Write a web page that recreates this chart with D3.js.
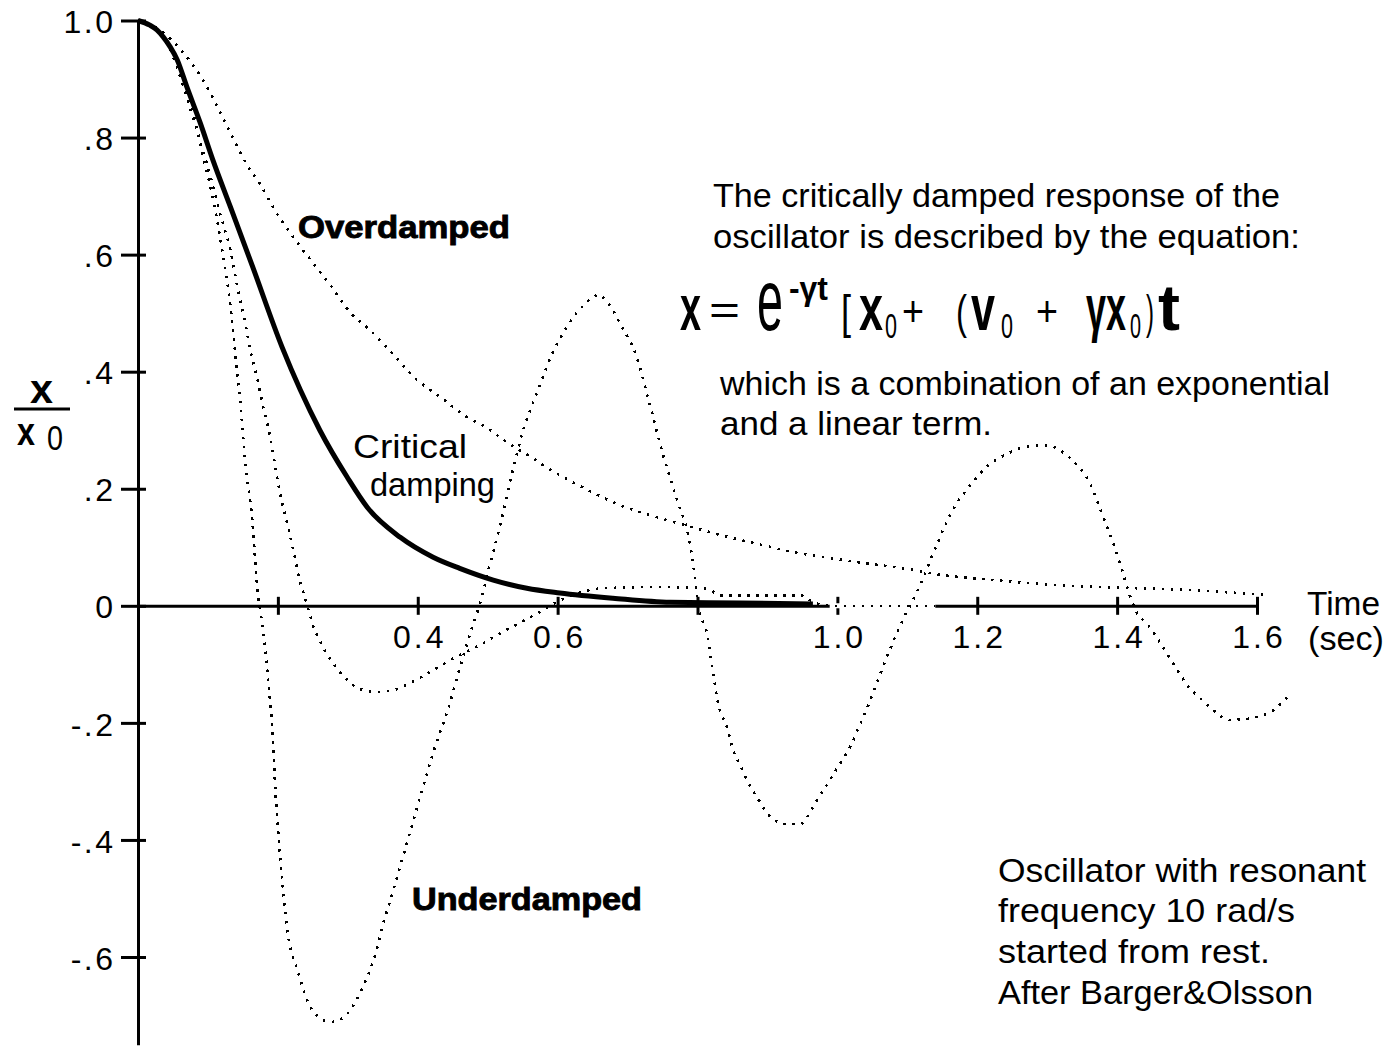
<!DOCTYPE html>
<html>
<head>
<meta charset="utf-8">
<title>Damped oscillator response</title>
<script src="https://cdn.jsdelivr.net/npm/d3@7"></script>
<style>
  html, body { margin: 0; padding: 0; background: #fff; }
  svg { display: block; }
  text { font-family: "Liberation Sans", Arial, sans-serif; fill: #000; }
</style>
</head>
<body>
<svg id="chart" width="1395" height="1046"></svg>
<script>
// ---------- data ----------
const timeTicks = [0.2, 0.4, 0.6, 0.8, 1.0, 1.2, 1.4, 1.6];
const timeTickLabels = ["", "0.4", "0.6", "", "1.0", "1.2", "1.4", "1.6"];
const ratioTicks = [1.0, 0.8, 0.6, 0.4, 0.2, 0, -0.2, -0.4, -0.6];
const ratioTickLabels = ["1.0", ".8", ".6", ".4", ".2", "0", "-.2", "-.4", "-.6"];

// critically damped response (time in s, x/x0)
const criticalTime  = [0, 0.017, 0.027, 0.036, 0.046, 0.056, 0.070, 0.089, 0.107, 0.132, 0.164, 0.206, 0.232, 0.260, 0.299, 0.328, 0.375, 0.422, 0.460, 0.508, 0.556, 0.603, 0.679, 0.761, 0.861, 0.965];
const criticalValue = [1.0, 0.992, 0.984, 0.972, 0.955, 0.933, 0.886, 0.825, 0.762, 0.682, 0.579, 0.442, 0.369, 0.300, 0.220, 0.168, 0.117, 0.083, 0.064, 0.044, 0.030, 0.022, 0.013, 0.006, 0.005, 0.003];

// overdamped response
const overdampedTime  = [0, 0.031, 0.064, 0.093, 0.127, 0.156, 0.174, 0.196, 0.213, 0.246, 0.275, 0.303, 0.336, 0.356, 0.399, 0.432, 0.470, 0.499, 0.528, 0.561, 0.589, 0.622, 0.656, 0.689, 0.746, 0.785, 0.836, 0.888, 0.932, 1.004, 1.051, 1.100, 1.147, 1.214, 1.261, 1.333, 1.404, 1.500, 1.608];
const overdampedValue = [1.0, 0.984, 0.946, 0.898, 0.821, 0.753, 0.722, 0.675, 0.645, 0.592, 0.548, 0.502, 0.466, 0.441, 0.386, 0.357, 0.323, 0.304, 0.279, 0.255, 0.233, 0.211, 0.190, 0.172, 0.150, 0.137, 0.120, 0.105, 0.093, 0.079, 0.071, 0.063, 0.053, 0.045, 0.040, 0.034, 0.031, 0.027, 0.019];

// strongly underdamped response
const underdampedTime  = [0, 0.024, 0.046, 0.064, 0.081, 0.093, 0.107, 0.122, 0.132, 0.139, 0.146, 0.154, 0.163, 0.170, 0.179, 0.186, 0.192, 0.197, 0.204, 0.213, 0.229, 0.249, 0.275, 0.293, 0.312, 0.327, 0.339, 0.350, 0.365, 0.379, 0.393, 0.407, 0.422, 0.443, 0.460, 0.475, 0.488, 0.503, 0.518, 0.536, 0.550, 0.570, 0.593, 0.613, 0.636, 0.658, 0.671, 0.689, 0.713, 0.732, 0.751, 0.771, 0.789, 0.794, 0.801, 0.814, 0.822, 0.829, 0.842, 0.852, 0.861, 0.874, 0.884, 0.901, 0.914, 0.928, 0.947, 0.958, 0.968, 0.987, 1.001, 1.019, 1.032, 1.045, 1.057, 1.075, 1.094, 1.108, 1.118, 1.142, 1.165, 1.190, 1.214, 1.247, 1.271, 1.300, 1.323, 1.343, 1.361, 1.375, 1.390, 1.404, 1.418, 1.428, 1.443, 1.461, 1.486, 1.504, 1.518, 1.537, 1.561, 1.581, 1.600, 1.624, 1.643];
const underdampedValue = [1.0, 0.987, 0.950, 0.898, 0.835, 0.767, 0.697, 0.596, 0.514, 0.432, 0.352, 0.237, 0.152, 0.039, -0.046, -0.126, -0.212, -0.327, -0.438, -0.549, -0.626, -0.690, -0.711, -0.704, -0.674, -0.636, -0.597, -0.546, -0.486, -0.428, -0.370, -0.312, -0.251, -0.178, -0.107, -0.047, 0.000, 0.070, 0.138, 0.232, 0.297, 0.363, 0.433, 0.476, 0.512, 0.531, 0.519, 0.483, 0.425, 0.343, 0.257, 0.180, 0.108, 0.070, 0.001, -0.050, -0.113, -0.164, -0.207, -0.250, -0.272, -0.306, -0.325, -0.356, -0.369, -0.373, -0.373, -0.359, -0.338, -0.302, -0.275, -0.239, -0.204, -0.168, -0.130, -0.075, -0.023, 0.010, 0.035, 0.104, 0.164, 0.206, 0.238, 0.262, 0.272, 0.274, 0.262, 0.240, 0.210, 0.167, 0.121, 0.073, 0.018, -0.011, -0.031, -0.062, -0.110, -0.141, -0.157, -0.178, -0.195, -0.194, -0.190, -0.178, -0.157];

// lightly underdamped response (just below critical damping)
const nearCriticalTime  = [0, 0.024, 0.046, 0.064, 0.084, 0.103, 0.120, 0.132, 0.143, 0.153, 0.160, 0.170, 0.179, 0.189, 0.196, 0.203, 0.213, 0.222, 0.230, 0.242, 0.250, 0.260, 0.279, 0.296, 0.317, 0.342, 0.365, 0.389, 0.422, 0.460, 0.489, 0.518, 0.546, 0.575, 0.596, 0.625, 0.665, 0.746, 0.814, 0.832, 0.947, 0.968, 0.989, 1.140];
const nearCriticalValue = [1.0, 0.987, 0.950, 0.890, 0.813, 0.736, 0.659, 0.608, 0.540, 0.485, 0.440, 0.391, 0.340, 0.288, 0.240, 0.193, 0.143, 0.096, 0.049, 0.001, -0.033, -0.060, -0.098, -0.123, -0.142, -0.147, -0.144, -0.132, -0.110, -0.084, -0.067, -0.047, -0.029, -0.010, 0.005, 0.020, 0.030, 0.032, 0.029, 0.018, 0.018, 0.005, 0, 0];

// ---------- layout ----------
const svg = d3.select("#chart");
const x = d3.scaleLinear().domain([0, 1.6]).range([138, 1257]);
const y = d3.scaleLinear().domain([-0.75, 1.0]).range([1044.8, 20.5]);

const toPoints = (ts, vs) => ts.map((t, i) => ({ t, v: vs[i] }));
const critical = toPoints(criticalTime, criticalValue);
const overdamped = toPoints(overdampedTime, overdampedValue);
const underdamped = toPoints(underdampedTime, underdampedValue);
const nearCritical = toPoints(nearCriticalTime, nearCriticalValue);

const line = d3.line().x(d => x(d.t)).y(d => y(d.v)).curve(d3.curveMonotoneX);
const FONT = '"Liberation Sans", Arial, sans-serif';

// ---------- axes ----------
const yAxis = d3.axisLeft(y)
  .tickValues(ratioTicks)
  .tickFormat((d, i) => ratioTickLabels[i])
  .tickSize(17).tickSizeOuter(0).tickPadding(8);

const yG = svg.append("g").attr("transform", `translate(${x(0)},0)`).call(yAxis);
yG.select(".domain").attr("stroke", "#000").attr("stroke-width", 3);
yG.selectAll(".tick line").attr("x1", 8).attr("stroke", "#000").attr("stroke-width", 3);
yG.selectAll(".tick text")
  .attr("font-family", FONT).attr("font-size", 32)
  .attr("letter-spacing", 2.5).attr("dx", 2.5)
  .attr("dy", "0.38em").attr("fill", "#000");

const xAxis = d3.axisBottom(x)
  .tickValues(timeTicks)
  .tickFormat((d, i) => timeTickLabels[i])
  .tickSize(9).tickSizeOuter(0).tickPadding(10);

const xG = svg.append("g").attr("transform", `translate(0,${y(0)})`).call(xAxis);
xG.select(".domain").attr("stroke", "#000").attr("stroke-width", 3);
xG.selectAll(".tick line").attr("y1", -9).attr("stroke", "#000").attr("stroke-width", 3);
xG.selectAll(".tick text")
  .attr("font-family", FONT).attr("font-size", 32)
  .attr("letter-spacing", 3).attr("dx", 1.5).attr("fill", "#000");
[yG, xG].forEach(g => g.attr("font-family", null).attr("font-size", null));

// where the lightly damped curve lies on the axis its dots replace the axis line
svg.append("path")
  .datum(nearCritical.filter(d => d.v === 0))
  .attr("d", line)
  .attr("fill", "none").attr("stroke", "#fff").attr("stroke-width", 5);

// ---------- curves ----------
[overdamped, underdamped, nearCritical].forEach(series => {
  svg.append("path")
    .datum(series)
    .attr("d", line)
    .attr("fill", "none")
    .attr("stroke", "#000")
    .attr("stroke-width", 2.6)
    .attr("stroke-dasharray", "2.4 6.6")
    .attr("shape-rendering", "crispEdges");
});

svg.append("path")
  .datum(critical)
  .attr("d", line)
  .attr("fill", "none")
  .attr("stroke", "#000")
  .attr("stroke-width", 5)
  .attr("stroke-linejoin", "round");

// ---------- text ----------
function label(str, px, py, opts = {}) {
  const t = svg.append("text")
    .attr("x", px).attr("y", py)
    .attr("font-size", opts.size || 33)
    .attr("font-weight", opts.bold ? "bold" : "normal")
    .text(str);
  if (opts.width) t.attr("textLength", opts.width).attr("lengthAdjust", "spacingAndGlyphs");
  if (opts.heavy) t.attr("stroke", "#000").attr("stroke-width", opts.heavy);
  return t;
}

// a glyph group squeezed horizontally to a given width
function squeezed(p) {
  const t = svg.append("text")
    .attr("font-size", p.size)
    .attr("font-weight", p.bold ? "bold" : "normal")
    .text(p.s);
  const natural = t.node().getComputedTextLength();
  t.attr("transform", `translate(${p.x},${p.y}) scale(${p.w / natural},1)`);
  return t;
}

// axis titles
squeezed({ s: "x", x: 30, y: 403, size: 40, bold: true, w: 23 });
svg.append("line").attr("x1", 14).attr("x2", 70).attr("y1", 409).attr("y2", 409)
  .attr("stroke", "#000").attr("stroke-width", 3);
squeezed({ s: "x", x: 17, y: 445, size: 38, bold: true, w: 18 });
squeezed({ s: "0", x: 47, y: 450, size: 35, w: 16 });
label("Time", 1307, 615, { size: 33, width: 73 });
label("(sec)", 1308, 650, { size: 33, width: 76 });

// curve names
label("Overdamped", 298, 238, { size: 32, bold: true, width: 212, heavy: 0.9 });
label("Critical", 353, 458, { size: 33, width: 114 });
label("damping", 370, 496, { size: 33, width: 125 });
label("Underdamped", 412, 910, { size: 32, bold: true, width: 230, heavy: 0.9 });

// explanation
label("The critically damped response of the", 713, 207, { width: 567 });
label("oscillator is described by the equation:", 713, 248, { width: 587 });
label("which is a combination of an exponential", 720, 395, { width: 610 });
label("and a linear term.", 720, 435, { width: 272 });

// x = e^(-γt) [x0 + (v0 + γx0) t]
[
  { s: "x",   x: 680,  y: 330, size: 64, bold: true,  w: 21 },
  { s: "=",   x: 709,  y: 324, size: 40, bold: false, w: 31 },
  { s: "e",   x: 757,  y: 330, size: 88, bold: false, w: 26 },
  { s: "-γt", x: 789,  y: 300, size: 34, bold: true,  w: 39 },
  { s: "[",   x: 841,  y: 328, size: 46, bold: false, w: 10 },
  { s: "x",   x: 859,  y: 330, size: 64, bold: true,  w: 24 },
  { s: "0",   x: 885,  y: 338, size: 36, bold: false, w: 12 },
  { s: "+",   x: 902,  y: 326, size: 42, bold: false, w: 22 },
  { s: "(",   x: 956,  y: 328, size: 46, bold: false, w: 11 },
  { s: "v",   x: 971,  y: 330, size: 64, bold: true,  w: 24 },
  { s: "0",   x: 1001, y: 338, size: 36, bold: false, w: 12 },
  { s: "+",   x: 1036, y: 326, size: 42, bold: false, w: 22 },
  { s: "γx",  x: 1086, y: 330, size: 64, bold: true,  w: 40 },
  { s: "0",   x: 1130, y: 338, size: 36, bold: false, w: 11 },
  { s: ")",   x: 1146, y: 328, size: 46, bold: false, w: 8 },
  { s: "t",   x: 1158, y: 330, size: 64, bold: true,  w: 22 }
].forEach(squeezed);

// source note
label("Oscillator with resonant", 998, 882, { width: 368 });
label("frequency 10 rad/s", 998, 922, { width: 297 });
label("started from rest.", 998, 963, { width: 272 });
label("After Barger&Olsson", 998, 1004, { width: 315 });
</script>
</body>
</html>
